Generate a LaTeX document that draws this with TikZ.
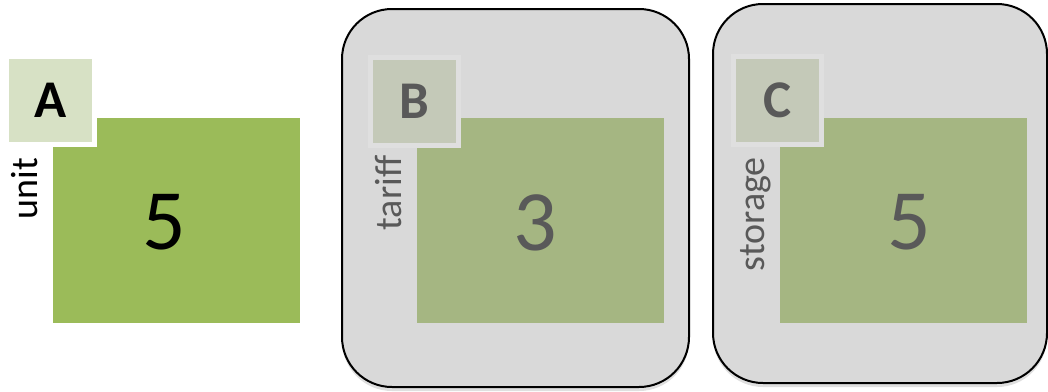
\documentclass[tikz,border=0pt]{standalone}
\usepackage{fontspec}
\setmainfont{Carlito}
\usetikzlibrary{shadows,positioning,calc}

\definecolor{panelgray}{HTML}{D9D9D9}
\definecolor{gapgray}{HTML}{DFDFDF}
\definecolor{tagA}{HTML}{D7E1C5}
\definecolor{valA}{HTML}{9BBB59}
\definecolor{tagdim}{HTML}{C4C9B8}
\definecolor{valdim}{HTML}{A5B682}
\definecolor{textdim}{HTML}{595959}

\begin{document}
\begin{tikzpicture}[x=1pt,y=-1pt,
	panel/.style={draw=black, line width=2pt, fill=panelgray, rounded corners=50pt,
		drop shadow={shadow xshift=0pt, shadow yshift=-4pt, opacity=0.25}},
	tagbox/.style={minimum size=88pt, inner sep=0pt, line width=5pt, font=\fontsize{53}{53}\selectfont\bfseries},
	valbox/.style={minimum width=247pt, minimum height=205pt, inner sep=0pt},
	numtext/.style={inner sep=0pt, font=\fontsize{86}{86}\selectfont},
	dimlabel/.style={rotate=90, anchor=base east, inner sep=0pt, font=\fontsize{38}{38}\selectfont}]
	\useasboundingbox (0,0) rectangle (1048,391);

	% panels
	\node[panel, minimum width=347pt, minimum height=378pt] (panelB) at (515.5,198) {};
	\node[panel, minimum width=334pt, minimum height=379pt] (panelC) at (880,193.5) {};

	% A
	\node[valbox, fill=valA] (valA) at (176.5,220.5) {};
	\node[numtext] (numA) at ([xshift=-12pt,yshift=-2pt]valA.center) {5};
	\node[tagbox, fill=tagA, draw=white] (tagA) at (50.5,100.5) {A};
	\node[dimlabel] (dimA) at ([xshift=33.5pt,yshift=-10.5pt]tagA.south west) {unit};

	% B
	\node[valbox, fill=valdim] (valB) at (540.5,220.5) {};
	\node[numtext, text=textdim] (numB) at ([xshift=-5pt,yshift=-2pt]valB.center) {3};
	\node[tagbox, fill=tagdim, draw=gapgray, text=textdim] (tagB) at (414,101) {B};
	\node[dimlabel, text=textdim] (dimB) at ([xshift=33.5pt,yshift=-8pt]tagB.south west) {tariff};

	% C
	\node[valbox, fill=valdim] (valC) at (903.5,220) {};
	\node[numtext, text=textdim] (numC) at ([xshift=6pt,yshift=-2pt]valC.center) {5};
	\node[tagbox, fill=tagdim, draw=gapgray, text=textdim] (tagC) at (777.5,100.5) {C};
	\node[dimlabel, text=textdim] (dimC) at ([xshift=33.5pt,yshift=-10pt]tagC.south west) {storage};
\end{tikzpicture}
\end{document}
